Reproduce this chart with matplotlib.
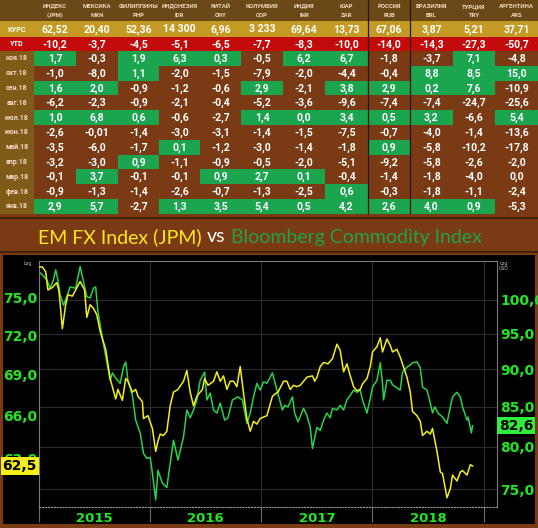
import matplotlib
matplotlib.use('Agg')
import matplotlib.pyplot as plt
from matplotlib.patches import Rectangle
from matplotlib.ticker import NullLocator

# ---------------- table data ----------------
names = ['ИНДЕКС', 'МЕКСИКА', 'ФИЛИППИНЫ', 'ИНДОНЕЗИЯ', 'КИТАЙ', 'КОЛУМБИЯ',
         'ИНДИЯ', 'ЮАР', 'РОССИЯ', 'БРАЗИЛИЯ', 'ТУРЦИЯ', 'АРГЕНТИНА']
codes = ['(JPM)', 'MXN', 'PHP', 'IDR', 'CNY', 'COP', 'INR', 'ZAR', 'RUB', 'BRL', 'TRY', 'ARS']
rate = ['62,52', '20,40', '52,36', '14 300', '6,96', '3 233', '69,64', '13,73', '67,06', '3,87', '5,21', '37,71']
ytd = ['-10,2', '-3,7', '-4,5', '-5,1', '-6,5', '-7,7', '-8,3', '-10,0', '-14,0', '-14,3', '-27,3', '-50,7']

months = ['ноя.18', 'окт.18', 'сен.18', 'авг.18', 'июл.18', 'июн.18',
          'май.18', 'апр.18', 'мар.18', 'фев.18', 'янв.18']
nov18 = ['1,7', '-0,3', '1,9', '6,3', '0,3', '-0,5', '6,2', '6,7', '-1,8', '-3,7', '7,1', '-4,8']
oct18 = ['-1,0', '-8,0', '1,1', '-2,0', '-1,5', '-7,9', '-2,0', '-4,4', '-0,4', '8,8', '8,5', '15,0']
sep18 = ['1,6', '2,0', '-0,9', '-1,2', '-0,6', '2,9', '-2,1', '3,8', '2,9', '0,2', '7,6', '-10,9']
aug18 = ['-6,2', '-2,3', '-0,9', '-2,1', '-0,4', '-5,2', '-3,6', '-9,6', '-7,4', '-7,4', '-24,7', '-25,6']
jul18 = ['1,0', '6,8', '0,6', '-0,6', '-2,7', '1,4', '0,0', '3,4', '0,5', '3,2', '-6,6', '5,4']
jun18 = ['-2,6', '-0,01', '-1,4', '-3,0', '-3,1', '-1,4', '-1,5', '-7,5', '-0,7', '-4,0', '-1,4', '-13,6']
may18 = ['-3,5', '-6,0', '-1,7', '0,1', '-1,2', '-3,0', '-1,4', '-1,8', '0,9', '-5,8', '-10,2', '-17,8']
apr18 = ['-3,2', '-3,0', '0,9', '-1,1', '-0,9', '-0,5', '-2,0', '-5,1', '-9,2', '-5,8', '-2,6', '-2,0']
mar18 = ['-0,1', '3,7', '-0,1', '-0,1', '0,9', '2,7', '0,1', '-0,4', '-1,4', '-1,8', '-4,0', '0,0']
feb18 = ['-0,9', '-1,3', '-1,4', '-2,6', '-0,7', '-1,3', '-2,5', '0,6', '-0,3', '-1,8', '-1,1', '-2,4']
jan18 = ['2,9', '5,7', '-2,7', '1,3', '3,5', '5,4', '0,5', '4,2', '2,6', '4,0', '0,9', '-5,3']
monthly = [nov18, oct18, sep18, aug18, jul18, jun18, may18, apr18, mar18, feb18, jan18]
# rounded to 0,0 but still a gain
green_zero = {('июл.18', 'INR')}

# ---------------- chart data ----------------
jpm_t = [2015.00, 2015.03, 2015.06, 2015.08, 2015.12, 2015.16, 2015.18, 2015.21, 2015.24, 2015.26,
         2015.30, 2015.33, 2015.37, 2015.41, 2015.43, 2015.46, 2015.49, 2015.52, 2015.55, 2015.60,
         2015.64, 2015.69, 2015.71, 2015.75, 2015.78, 2015.80, 2015.84, 2015.87, 2015.89, 2015.93,
         2015.94, 2015.98, 2016.02, 2016.05, 2016.07, 2016.09, 2016.12, 2016.15, 2016.18, 2016.21,
         2016.25, 2016.30, 2016.33, 2016.36, 2016.39, 2016.42, 2016.47, 2016.49, 2016.52, 2016.57,
         2016.60, 2016.63, 2016.66, 2016.69, 2016.72, 2016.75, 2016.78, 2016.81, 2016.84, 2016.87,
         2016.90, 2016.93, 2016.96, 2016.99, 2017.05, 2017.10, 2017.13, 2017.15, 2017.20, 2017.23,
         2017.26, 2017.29, 2017.32, 2017.35, 2017.41, 2017.46, 2017.48, 2017.50, 2017.53, 2017.56,
         2017.60, 2017.64, 2017.68, 2017.71, 2017.74, 2017.77, 2017.80, 2017.83, 2017.86, 2017.89,
         2017.91, 2017.95, 2017.98, 2018.00, 2018.04, 2018.07, 2018.09, 2018.13, 2018.16, 2018.18,
         2018.22, 2018.25, 2018.27, 2018.31, 2018.34, 2018.36, 2018.40, 2018.43, 2018.45, 2018.49,
         2018.52, 2018.54, 2018.58, 2018.61, 2018.63, 2018.67, 2018.70, 2018.72, 2018.76, 2018.79,
         2018.81, 2018.85, 2018.88, 2018.90]
jpm_v = [77.5, 77.5, 77.1, 75.6, 75.8, 76.2, 75.5, 72.5, 74.4, 75.2,
         75.1, 75.6, 76.3, 75.6, 73.4, 74.4, 74.1, 73.6, 72.3, 70.9,
         68.7, 67.2, 67.9, 67.1, 68.7, 68.5, 67.7, 67.9, 67.4, 67.0,
         65.8, 66.0, 65.1, 63.5, 64.2, 64.7, 64.6, 64.9, 66.7, 67.7,
         67.9, 68.5, 69.3, 67.7, 66.7, 67.4, 67.9, 68.7, 68.2, 68.5,
         69.2, 68.5, 68.9, 67.9, 68.5, 68.5, 68.1, 69.6, 67.6, 65.8,
         64.9, 65.6, 65.4, 65.8, 66.0, 67.4, 67.6, 67.7, 68.5, 68.5,
         67.9, 68.2, 68.1, 68.2, 68.8, 68.9, 68.5, 68.8, 69.6, 69.9,
         69.8, 70.2, 71.3, 70.8, 69.2, 69.8, 68.9, 68.1, 67.8, 67.9,
         68.3, 68.7, 69.6, 70.7, 71.1, 71.8, 70.7, 71.7, 71.2, 70.7,
         70.9, 70.3, 69.8, 68.8, 67.7, 66.3, 66.0, 65.6, 64.6, 64.9,
         64.7, 65.1, 63.5, 62.1, 62.0, 60.4, 61.0, 61.9, 61.5, 62.1,
         62.2, 61.9, 62.6, 62.5]

bcom_t = [2015.01, 2015.03, 2015.07, 2015.10, 2015.13, 2015.15, 2015.17, 2015.19, 2015.22, 2015.25,
          2015.28, 2015.33, 2015.37, 2015.40, 2015.43, 2015.46, 2015.49, 2015.51, 2015.53, 2015.57,
          2015.61, 2015.64, 2015.66, 2015.69, 2015.73, 2015.76, 2015.78, 2015.80, 2015.84, 2015.87,
          2015.91, 2015.94, 2015.97, 2016.00, 2016.02, 2016.05, 2016.07, 2016.11, 2016.15, 2016.18,
          2016.21, 2016.25, 2016.30, 2016.33, 2016.36, 2016.39, 2016.42, 2016.45, 2016.49, 2016.51,
          2016.54, 2016.57, 2016.60, 2016.63, 2016.67, 2016.70, 2016.74, 2016.79, 2016.83, 2016.87,
          2016.90, 2016.93, 2016.96, 2016.99, 2017.02, 2017.05, 2017.10, 2017.14, 2017.19, 2017.21,
          2017.24, 2017.28, 2017.30, 2017.33, 2017.38, 2017.41, 2017.44, 2017.46, 2017.50, 2017.53,
          2017.56, 2017.59, 2017.62, 2017.64, 2017.68, 2017.71, 2017.74, 2017.77, 2017.80, 2017.83,
          2017.86, 2017.89, 2017.91, 2017.95, 2017.98, 2018.00, 2018.04, 2018.07, 2018.09, 2018.10,
          2018.13, 2018.16, 2018.18, 2018.22, 2018.25, 2018.27, 2018.31, 2018.34, 2018.36, 2018.40,
          2018.43, 2018.45, 2018.49, 2018.52, 2018.54, 2018.56, 2018.59, 2018.63, 2018.67, 2018.70,
          2018.72, 2018.76, 2018.79, 2018.81, 2018.85, 2018.86, 2018.89, 2018.90]
bcom_v = [104.2, 103.9, 103.1, 101.8, 103.1, 104.7, 103.1, 100.8, 99.2, 100.5,
          102.0, 101.8, 105.2, 102.8, 100.5, 100.3, 101.8, 102.0, 98.2, 94.4,
          91.0, 88.5, 89.5, 88.8, 88.1, 90.3, 91.0, 88.5, 86.5, 83.3,
          81.7, 79.2, 78.6, 78.7, 76.9, 73.8, 77.2, 75.7, 75.2, 78.0,
          80.8, 78.4, 81.2, 84.6, 83.6, 84.6, 85.9, 88.5, 89.6, 85.9,
          86.8, 84.6, 84.2, 85.5, 83.3, 83.6, 85.9, 86.3, 85.9, 82.9,
          84.2, 86.3, 88.1, 87.2, 88.3, 88.1, 89.5, 87.2, 84.6, 85.2,
          85.0, 86.3, 84.2, 83.1, 84.8, 83.9, 82.4, 79.8, 82.4, 82.0,
          83.3, 84.2, 83.6, 84.8, 84.6, 85.2, 84.6, 85.9, 86.5, 87.2,
          86.9, 87.2, 85.9, 84.2, 86.1, 87.6, 88.5, 90.9, 88.1, 85.9,
          88.5, 88.5, 87.9, 87.5, 87.2, 89.6, 90.3, 90.6, 90.9, 91.0,
          90.2, 87.6, 87.2, 85.5, 84.2, 85.0, 84.2, 83.7, 82.9, 85.0,
          86.3, 86.9, 86.3, 85.0, 83.3, 83.7, 81.7, 82.6]

jpm_ticks = [63, 66, 69, 72, 75]
bcom_ticks = [75, 80, 85, 90, 95, 100]
years = [2015, 2016, 2017, 2018]

# ---------------- colours ----------------
BROWN = '#7a3a14'
HEAD = '#6b4916'
OLIVE = '#7e5b17'
GOLD = '#c39a24'
RED = '#c30b0b'
CELL_GREEN = '#1aa54e'
YEL = '#f4ee1c'
GRN = '#2ad24a'
TICK_GRN = '#22e622'

fig = plt.figure(figsize=(5.38, 5.28), dpi=100, facecolor=BROWN)

# table drawn in pixel coordinates
tab = fig.add_axes([0, 0, 1, 1])
tab.set_xlim(0, 538)
tab.set_ylim(528, 0)
tab.axis('off')

edges = [0, 34, 76, 118, 159, 200, 241, 283, 325, 368, 410, 453, 495, 538]
row_h = 14.8
tab.add_patch(Rectangle((0, 0), 538, 21, fc=HEAD, ec='none'))
tab.add_patch(Rectangle((0, 21), 538, 16, fc=GOLD, ec='none'))
tab.add_patch(Rectangle((0, 37), 538, 14, fc=RED, ec='none'))
tab.add_patch(Rectangle((0, 51), 34, row_h * 11, fc=OLIVE, ec='none'))

tfont = dict(family=['Roboto', 'DejaVu Sans'], weight='bold')
for j in range(12):
    cx = (edges[j + 1] + edges[j + 2]) / 2
    tab.text(cx, 6.5, names[j], ha='center', va='center', size=4.3, color='#f3d9c2', **tfont)
    tab.text(cx, 15.5, codes[j], ha='center', va='center', size=4.3, color='#f3d9c2', **tfont)
    tab.text(cx, 29.5, rate[j], ha='center', va='center', size=7.6, color='white', **tfont)
    tab.text(cx, 44.5, ytd[j], ha='center', va='center', size=7.6, color='white', **tfont)
tab.text(17, 29.5, 'КУРС', ha='center', va='center', size=5.2, color='white', **tfont)
tab.text(17, 44.5, 'YTD', ha='center', va='center', size=5.2, color='white', **tfont)

for i, (m, row) in enumerate(zip(months, monthly)):
    top = 51 + i * row_h
    tab.text(17, top + row_h / 2, m, ha='center', va='center', size=5.0, color='#f3dccb', **tfont)
    for j, s in enumerate(row):
        v = float(s.replace(',', '.'))
        if v > 0 or (m, codes[j]) in green_zero:
            tab.add_patch(Rectangle((edges[j + 1], top), edges[j + 2] - edges[j + 1], row_h,
                                    fc=CELL_GREEN, ec='none'))
        cx = (edges[j + 1] + edges[j + 2]) / 2
        tab.text(cx, top + row_h / 2 + 0.5, s, ha='center', va='center', size=7.6,
                 color='white', **tfont)

tab.vlines([368, 410], 0, 51 + row_h * 11, color='#2b1406', lw=0.9)
tab.hlines([218, 252], 0, 538, color='#3c1c08', lw=1.2)

# title pieces, laid out after measuring
parts = [('EM FX Index (JPM)', '#ffe81a'), ('vs', 'white'), ('Bloomberg Commodity Index', '#1fa346')]
texts = [tab.text(0, 237, s, color=c, size=14, family=['Lato', 'DejaVu Sans'],
                  ha='left', va='center') for s, c in parts]

# chart background
tab.add_patch(Rectangle((3, 255), 532, 269, fc='black', ec='none'))
tab.text(28, 264, 'Log', ha='center', va='center', size=3.3, color='#bbbbbb')
tab.text(499, 263, 'Log', ha='left', va='center', size=3.3, color='#bbbbbb')
tab.text(499, 269, 'USD', ha='left', va='center', size=3.3, color='#bbbbbb')

# ---------------- chart ----------------
ax = fig.add_axes([39 / 538, 21 / 528, 458 / 538, 246 / 528])
ax2 = ax.twinx()
ax.set_facecolor('black')

ax.plot(bcom_t, bcom_v, color=GRN, lw=1.1)
ax.set_yscale('log')
ax.set_ylim(73.0, 106.1)
ax.yaxis.tick_right()
ax.set_yticks(bcom_ticks, labels=[f'{t:.1f}'.replace('.', ',') for t in bcom_ticks],
              fontweight='bold')
ax.yaxis.set_minor_locator(NullLocator())
ax.tick_params(axis='y', length=0, pad=2.5, labelsize=10, labelcolor=TICK_GRN)

ax2.plot(jpm_t, jpm_v, color=YEL, lw=1.1)
ax2.set_yscale('log')
ax2.set_ylim(59.8, 78.0)
ax2.yaxis.tick_left()
ax2.set_yticks(jpm_ticks, labels=[f'{t:.1f}'.replace('.', ',') for t in jpm_ticks],
               fontweight='bold')
ax2.yaxis.set_minor_locator(NullLocator())
ax2.tick_params(axis='y', length=0, pad=1.5, labelsize=10, labelcolor=TICK_GRN)

ax.set_xlim(2015.0, 2019.12)
ax.set_xticks(years + [2019], labels=[''] * 5)
ax.set_xticks([y + 0.5 for y in years], labels=[str(y) for y in years], minor=True,
              fontweight='bold')
ax.tick_params(axis='x', which='major', length=11, color='#6a6a6a', direction='out')
ax.tick_params(axis='x', which='minor', length=0, pad=3.5, labelsize=9.5, labelcolor=TICK_GRN)
ax.grid(True, which='major', color='#2c2c2c', lw=0.8)

for a in (ax, ax2):
    for sp in a.spines.values():
        sp.set_visible(False)
for side in ('left', 'right', 'top'):
    ax.spines[side].set_visible(True)
    ax.spines[side].set_color('#7a7a7a')
    ax.spines[side].set_linewidth(0.8)
ax.spines['bottom'].set_visible(True)
ax.spines['bottom'].set_color('#9a9a9a')
ax.spines['bottom'].set_linestyle(':')

# last-value boxes
ax2.annotate(f'{jpm_v[-1]:.1f}'.replace('.', ','), xy=(0, jpm_v[-1]),
             xycoords=('axes fraction', 'data'), xytext=(-1.5, 0), textcoords='offset points',
             ha='right', va='center', fontsize=10, fontweight='bold', color='black',
             bbox=dict(boxstyle='square,pad=0.12', fc='#f4ee1a', ec='none'), annotation_clip=False)
ax.annotate(f'{bcom_v[-1]:.1f}'.replace('.', ','), xy=(1, bcom_v[-1]),
            xycoords=('axes fraction', 'data'), xytext=(1.5, 0), textcoords='offset points',
            ha='left', va='center', fontsize=10, fontweight='bold', color='black',
            bbox=dict(boxstyle='square,pad=0.12', fc='#2ef03c', ec='none'), annotation_clip=False)

# centre the title pieces
fig.canvas.draw()
r = fig.canvas.get_renderer()
ws = [t.get_window_extent(r).width for t in texts]
gap = 5
x = 260 - (sum(ws) + gap * 2) / 2
for t, w in zip(texts, ws):
    t.set_x(x)
    x += w + gap

fig.savefig('out.png', dpi=100, facecolor=BROWN)
